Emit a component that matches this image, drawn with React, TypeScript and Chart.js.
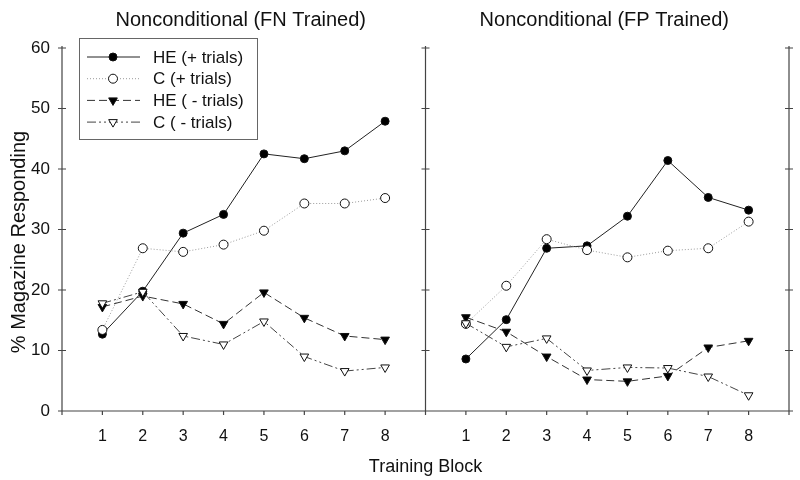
import React, { useEffect, useRef } from 'react';
import { Chart, registerables } from 'chart.js';

Chart.register(...registerables);

// ---- data ----
const blocks = [1, 2, 3, 4, 5, 6, 7, 8];
const panelTitles = ['Nonconditional (FN Trained)', 'Nonconditional (FP Trained)'];
const seriesNames = ['HE (+ trials)', 'C (+ trials)', 'HE ( - trials)', 'C ( - trials)'];
const fnHEPlus = [12.7, 19.8, 29.4, 32.5, 42.5, 41.7, 43.0, 47.9];
const fnCPlus = [13.4, 26.9, 26.3, 27.5, 29.8, 34.3, 34.3, 35.2];
const fnHEMinus = [17.2, 19.0, 17.7, 14.4, 19.6, 15.4, 12.4, 11.8];
const fnCMinus = [17.8, 19.7, 12.4, 11.0, 14.8, 9.0, 6.6, 7.2];
const fpHEPlus = [8.6, 15.1, 26.9, 27.3, 32.2, 41.4, 35.3, 33.2];
const fpCPlus = [14.4, 20.7, 28.4, 26.6, 25.4, 26.5, 26.9, 31.3];
const fpHEMinus = [15.5, 13.1, 9.0, 5.2, 4.9, 5.8, 10.5, 11.6];
const fpCMinus = [14.5, 10.6, 12.0, 6.7, 7.2, 7.1, 5.7, 2.6];
const yTicks = [0, 10, 20, 30, 40, 50, 60];
const xTitle = 'Training Block';
const yTitle = '% Magazine Responding';

// each panel spans 0..9 on the shared linear x axis
const PANEL_SPAN = 9;

const FONT = "'Liberation Sans', Arial, Helvetica, sans-serif";

const styles = [
  { line: '#222', dash: [] as number[], shape: 'circle', r: 4, fill: '#000', rot: 0 },
  { line: '#9a9a9a', dash: [1, 2], shape: 'circle', r: 4.5, fill: '#fff', rot: 0 },
  { line: '#333', dash: [8, 4], shape: 'triangle', r: 5, fill: '#000', rot: 180 },
  { line: '#444', dash: [9, 3, 2, 3, 2, 3], shape: 'triangle', r: 5, fill: '#fff', rot: 180 },
];

const panels = [
  [fnHEPlus, fnCPlus, fnHEMinus, fnCMinus],
  [fpHEPlus, fpCPlus, fpHEMinus, fpCMinus],
];

function drawMarker(ctx: CanvasRenderingContext2D, s: any, x: number, y: number) {
  ctx.save();
  ctx.setLineDash([]);
  ctx.fillStyle = s.fill;
  ctx.strokeStyle = '#111';
  ctx.lineWidth = 1;
  ctx.beginPath();
  if (s.shape === 'circle') {
    ctx.arc(x, y, s.r, 0, Math.PI * 2);
  } else {
    let rad = (s.rot * Math.PI) / 180;
    for (let i = 0; i < 3; i++) {
      const px = x + Math.sin(rad) * s.r;
      const py = y - Math.cos(rad) * s.r;
      if (i === 0) ctx.moveTo(px, py);
      else ctx.lineTo(px, py);
      rad += (2 * Math.PI) / 3;
    }
    ctx.closePath();
  }
  ctx.fill();
  ctx.stroke();
  ctx.restore();
}

const decorPlugin = {
  id: 'decor',
  beforeDatasetsDraw(chart: any) {
    const { ctx, chartArea, scales } = chart;
    const { top, bottom } = chartArea;
    const x = scales.x;
    const y = scales.y;
    ctx.save();
    ctx.strokeStyle = '#444';
    ctx.lineWidth = 1.2;
    ctx.setLineDash([]);
    ctx.beginPath();
    const x0 = x.getPixelForValue(0);
    const x1 = x.getPixelForValue(2 * PANEL_SPAN);
    ctx.moveTo(x0 - 4, bottom);
    ctx.lineTo(x1 + 2, bottom);
    for (let v = 0; v <= 2 * PANEL_SPAN; v++) {
      const px = x.getPixelForValue(v);
      ctx.moveTo(px, bottom);
      ctx.lineTo(px, bottom + 4);
    }
    for (const v of [0, PANEL_SPAN, 2 * PANEL_SPAN]) {
      const px = x.getPixelForValue(v);
      ctx.moveTo(px, top - 2);
      ctx.lineTo(px, bottom);
      for (const t of yTicks) {
        const py = y.getPixelForValue(t);
        ctx.moveTo(px - 4, py);
        ctx.lineTo(px + 4, py);
      }
    }
    ctx.stroke();
    ctx.restore();
  },
  afterDraw(chart: any) {
    const { ctx, chartArea, scales } = chart;
    const x = scales.x;
    ctx.save();
    // panel titles
    ctx.fillStyle = '#111';
    ctx.font = `20px ${FONT}`;
    ctx.textAlign = 'center';
    ctx.textBaseline = 'middle';
    panelTitles.forEach((t, i) => {
      const cx = x.getPixelForValue(i * PANEL_SPAN + PANEL_SPAN / 2);
      ctx.fillText(t, cx - 3, 20);
    });
    // y axis title
    ctx.save();
    ctx.translate(19, 242);
    ctx.rotate(-Math.PI / 2);
    ctx.font = `20px ${FONT}`;
    ctx.fillText(yTitle, 0, 0);
    ctx.restore();
    // legend
    const bx = chartArea.left + 17;
    const by = chartArea.top - 10;
    const bw = 178;
    const bh = 101;
    ctx.fillStyle = '#fff';
    ctx.fillRect(bx, by, bw, bh);
    ctx.strokeStyle = '#666';
    ctx.lineWidth = 1;
    ctx.strokeRect(bx + 0.5, by + 0.5, bw, bh);
    seriesNames.forEach((name, i) => {
      const s = styles[i];
      const ly = by + 19 + i * 21.7;
      ctx.save();
      ctx.strokeStyle = s.line;
      ctx.lineWidth = 1;
      ctx.setLineDash(s.dash);
      ctx.beginPath();
      ctx.moveTo(bx + 8, ly);
      ctx.lineTo(bx + 61, ly);
      ctx.stroke();
      ctx.restore();
      drawMarker(ctx, s, bx + 34, ly);
      ctx.fillStyle = '#111';
      ctx.font = `17px ${FONT}`;
      ctx.textAlign = 'left';
      ctx.textBaseline = 'middle';
      ctx.fillText(name, bx + 74, ly + 1);
    });
    ctx.restore();
  },
};

export default function App() {
  const ref = useRef<HTMLCanvasElement | null>(null);

  useEffect(() => {
    document.body.style.margin = '0';
    const canvas = ref.current;
    if (!canvas) return;

    const datasets: any[] = [];
    panels.forEach((series, p) => {
      series.forEach((vals, i) => {
        const s = styles[i];
        datasets.push({
          label: seriesNames[i],
          data: blocks.map((b, k) => ({ x: b + p * PANEL_SPAN, y: vals[k] })),
          borderColor: s.line,
          borderWidth: 1,
          borderDash: s.dash,
          pointStyle: s.shape,
          pointRadius: s.r,
          pointRotation: s.rot,
          pointBackgroundColor: s.fill,
          pointBorderColor: '#111',
          pointBorderWidth: 1,
          tension: 0,
          fill: false,
          clip: false,
          order: 4 - i,
        });
      });
    });

    const chart = new Chart(canvas, {
      type: 'line',
      data: { datasets },
      options: {
        animation: false,
        responsive: true,
        maintainAspectRatio: false,
        layout: { padding: { top: 48, right: 11, left: 0, bottom: 0 } },
        plugins: {
          legend: { display: false },
          tooltip: { enabled: false },
          title: { display: false },
        },
        scales: {
          x: {
            type: 'linear',
            min: 0,
            max: 2 * PANEL_SPAN,
            grid: { display: false },
            border: { display: false },
            afterBuildTicks: (scale: any) => {
              const t: any[] = [];
              for (let v = 0; v <= 2 * PANEL_SPAN; v++) t.push({ value: v });
              scale.ticks = t;
            },
            afterFit: (scale: any) => {
              scale.height = 69;
            },
            ticks: {
              autoSkip: false,
              maxRotation: 0,
              padding: 8,
              color: '#111',
              font: { family: FONT, size: 16 },
              callback: (v: any) => {
                const r = Number(v) % PANEL_SPAN;
                return r === 0 ? '' : String(blocks[r - 1]);
              },
            },
            title: {
              display: true,
              text: xTitle,
              color: '#111',
              font: { family: FONT, size: 18 },
              padding: { top: 0, bottom: 2 },
            },
          },
          y: {
            type: 'linear',
            min: 0,
            max: 60,
            grid: { display: false },
            border: { display: false },
            afterBuildTicks: (scale: any) => {
              scale.ticks = yTicks.map((v) => ({ value: v }));
            },
            afterFit: (scale: any) => {
              scale.width = 62;
            },
            ticks: {
              padding: 4,
              color: '#111',
              font: { family: FONT, size: 17 },
            },
            title: { display: false },
          },
        },
      },
      plugins: [decorPlugin],
    } as any);

    return () => chart.destroy();
  }, []);

  return (
    <div style={{ position: 'relative', width: 800, height: 480 }}>
      <canvas ref={ref} />
    </div>
  );
}
